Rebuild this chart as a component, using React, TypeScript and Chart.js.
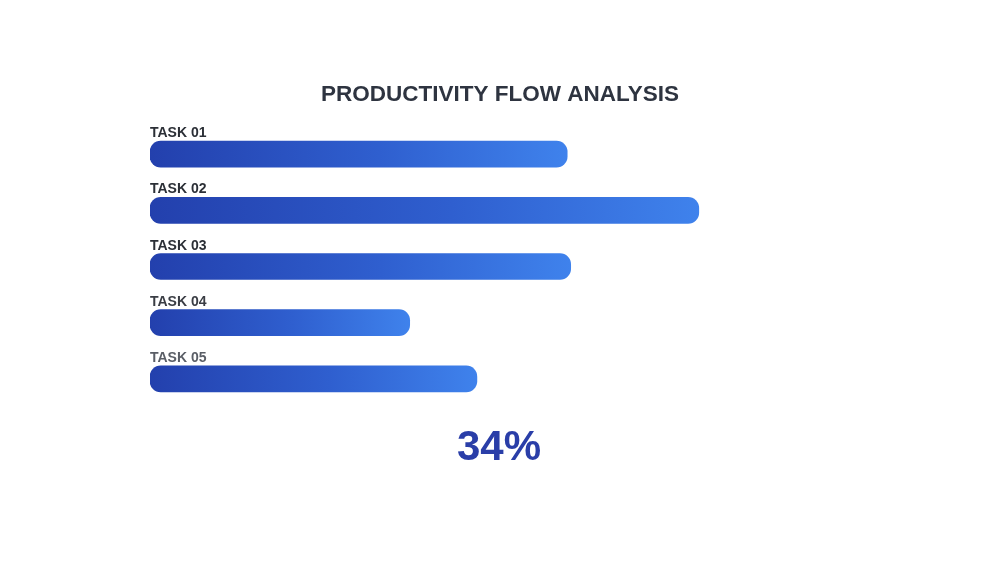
import React, { useEffect, useRef } from "react";
import { Chart, registerables } from "chart.js";

Chart.register(...registerables);

const categories = ["TASK 01", "TASK 02", "TASK 03", "TASK 04", "TASK 05"];
const values = [59.6, 78.4, 60.1, 37.1, 46.7];
const labelColors = ["#2b2f36", "#2b2f36", "#2b2f36", "#3a3d44", "#5a5e66"];
const titleText = "PRODUCTIVITY FLOW ANALYSIS";
const bigValueText = "34%";

const overlayPlugin = {
  id: "overlayText",
  afterDatasetsDraw(chart: any) {
    const ctx = chart.ctx;
    const meta = chart.getDatasetMeta(0);
    ctx.save();
    // title
    ctx.font = "bold 22.5px 'Liberation Sans', Arial, sans-serif";
    ctx.fillStyle = "#2e3440";
    ctx.textAlign = "center";
    ctx.textBaseline = "alphabetic";
    ctx.fillText(titleText, 500, 101);
    // task labels
    ctx.font = "bold 14px 'Liberation Sans', Arial, sans-serif";
    ctx.textAlign = "left";
    meta.data.forEach((bar: any, i: number) => {
      const top = bar.y - bar.height / 2;
      ctx.fillStyle = labelColors[i];
      ctx.fillText(categories[i], chart.scales.x.getPixelForValue(0), top - 4);
    });
    // big value
    ctx.font = "bold 42px 'Liberation Sans', Arial, sans-serif";
    ctx.fillStyle = "#2a3ea8";
    ctx.textAlign = "center";
    ctx.fillText(bigValueText, 499, 460);
    ctx.restore();
  },
};

export default function App() {
  const ref = useRef<HTMLCanvasElement>(null);
  useEffect(() => {
    document.body.style.margin = "0";
    document.body.style.background = "#ffffff";
    const canvas = ref.current!;
    const chart = new Chart(canvas, {
      type: "bar",
      data: {
        labels: categories,
        datasets: [
          {
            data: values,
            barThickness: 26,
            borderRadius: 11,
            borderSkipped: false,
            backgroundColor: (c: any) => {
              const ch = c.chart;
              if (!ch.chartArea || c.raw === undefined) return "#3060d0";
              const x0 = ch.scales.x.getPixelForValue(0);
              const x1 = ch.scales.x.getPixelForValue(c.raw);
              const g = ch.ctx.createLinearGradient(x0, 0, x1, 0);
              g.addColorStop(0, "#2340ad");
              g.addColorStop(0.55, "#2f5fcf");
              g.addColorStop(1, "#3f82ec");
              return g;
            },
          },
        ],
      },
      options: {
        indexAxis: "y",
        animation: false,
        responsive: false,
        devicePixelRatio: 1,
        layout: { padding: { left: 150, right: 150, top: 126, bottom: 155 } },
        scales: {
          x: { display: false, min: 0, max: 100 },
          y: { display: false },
        },
        plugins: {
          legend: { display: false },
          title: { display: false },
          tooltip: { enabled: false },
        },
      },
      plugins: [overlayPlugin],
    });
    return () => chart.destroy();
  }, []);
  return (
    <div style={{ width: 1000, height: 562, background: "#fff" }}>
      <canvas ref={ref} width={1000} height={562} style={{ display: "block" }} />
    </div>
  );
}
